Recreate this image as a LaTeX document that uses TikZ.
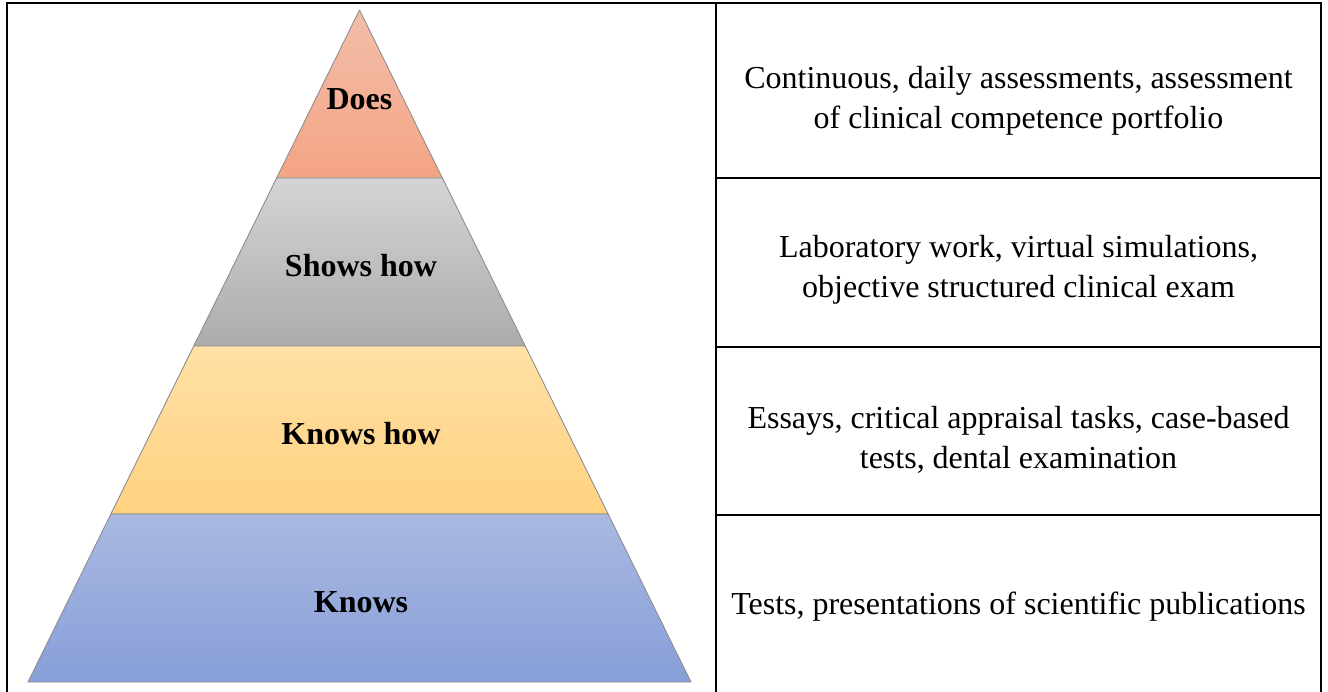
\documentclass[tikz,border=0pt]{standalone}
\usepackage{fontspec}
\setmainfont{Liberation Serif}
\usetikzlibrary{calc}
\definecolor{doesTop}{HTML}{F3BEAA}
\definecolor{doesBot}{HTML}{F4A484}
\definecolor{showsTop}{HTML}{D4D4D4}
\definecolor{showsBot}{HTML}{ACACAC}
\definecolor{knowsHowTop}{HTML}{FFE0A6}
\definecolor{knowsHowBot}{HTML}{FFD27F}
\definecolor{knowsTop}{HTML}{A9B9E1}
\definecolor{knowsBot}{HTML}{879ED8}
\definecolor{layerEdge}{HTML}{8E8E8E}
\begin{document}
\begin{tikzpicture}[x=1pt,y=-1pt,
layer/.style={
draw=layerEdge,
line width=0.9pt,
line join=round
},
level/.style={
font=\fontsize{32}{38}\selectfont\bfseries
},
cell/.style={
align=center,
font=\fontsize{32}{39.5}\selectfont
},
rule/.style={line width=2pt}
]
\useasboundingbox (0,0) rectangle (1328,692);

% pyramid outline
\coordinate (apex) at (359.5,10);
\coordinate (bl) at (28,682);
\coordinate (br) at (691,682);
\coordinate (l1) at ($(apex)!0.25!(bl)$);
\coordinate (r1) at ($(apex)!0.25!(br)$);
\coordinate (l2) at ($(apex)!0.5!(bl)$);
\coordinate (r2) at ($(apex)!0.5!(br)$);
\coordinate (l3) at ($(apex)!0.75!(bl)$);
\coordinate (r3) at ($(apex)!0.75!(br)$);

\path[layer,top color=doesTop,bottom color=doesBot] (apex) -- (r1) -- (l1) -- cycle;
\path[layer,top color=showsTop,bottom color=showsBot] (l1) -- (r1) -- (r2) -- (l2) -- cycle;
\path[layer,top color=knowsHowTop,bottom color=knowsHowBot] (l2) -- (r2) -- (r3) -- (l3) -- cycle;
\path[layer,top color=knowsTop,bottom color=knowsBot] (l3) -- (r3) -- (br) -- (bl) -- cycle;

\node (does) [level] at (359.5,99) {Does};
\node (shows) [level] at (361,266) {Shows how};
\node (knowsHow) [level] at (361,434) {Knows how};
\node (knows) [level] at (361,602) {Knows};

% table
\draw[rule] (6.5,692) -- (6.5,3.5) -- (1321,3.5) -- (1321,692);
\draw[rule] (716,3.5) -- (716,692);
\draw[rule] (716,178.5) -- (1321,178.5);
\draw[rule] (716,347.5) -- (1321,347.5);
\draw[rule] (716,515) -- (1321,515);

\node (doesText) [cell] at (1018.5,101) {Continuous, daily assessments, assessment\\of clinical competence portfolio};
\node (showsText) [cell] at (1018.5,270) {Laboratory work, virtual simulations,\\objective structured clinical exam};
\node (knowsHowText) [cell] at (1018.5,440) {Essays, critical appraisal tasks, case-based\\tests, dental examination};
\node (knowsText) [cell] at (1018.5,607) {Tests, presentations of scientific publications};
\end{tikzpicture}
\end{document}
